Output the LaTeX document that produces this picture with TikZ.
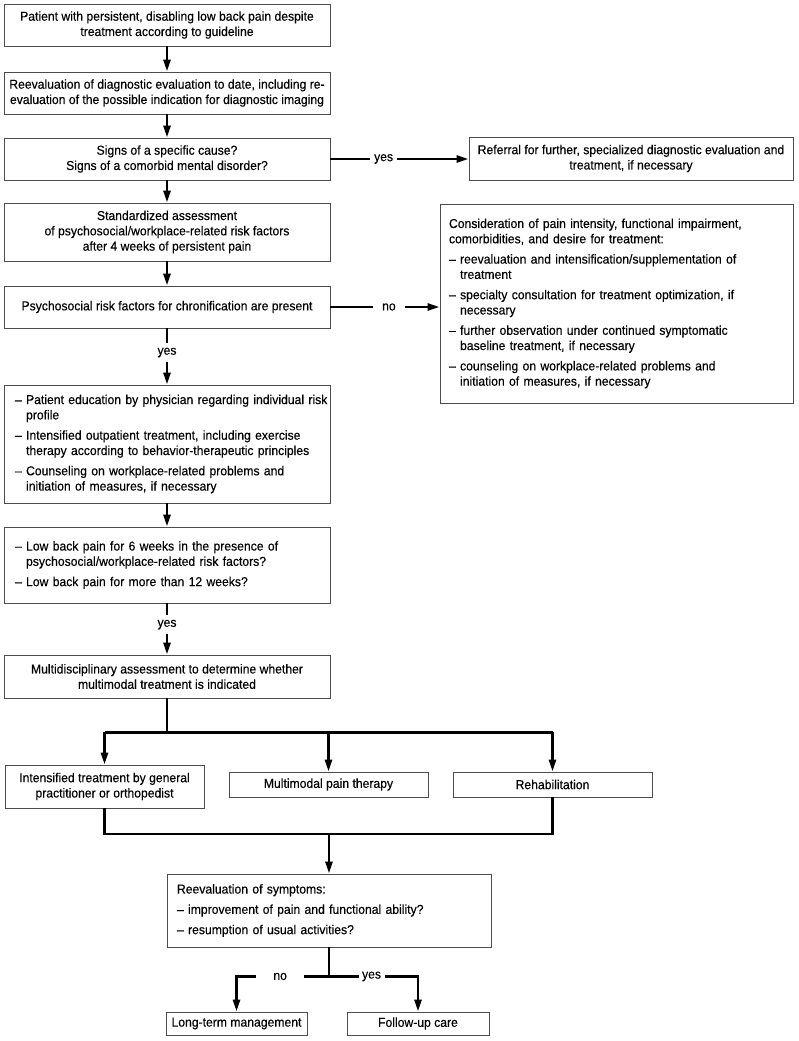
\documentclass[tikz,border=0pt]{standalone}
\usepackage{fontspec}
\setmainfont[FakeBold=0.3, FakeStretch=0.94]{Liberation Sans}
\usetikzlibrary{arrows.meta}
\newcommand{\hg}{\phantom{–\ }}
\begin{document}
\begin{tikzpicture}[x=1pt,y=-1pt,
  txt/.style={font=\fontsize{12.95}{15.3}\selectfont},
  box/.style={txt, draw=black!70, line width=0.9pt, fill=white, align=center, inner sep=0pt},
  lbox/.style={box, align=left, inner ysep=0pt},
  line/.style={line width=2.6pt, black},
  conn/.style={line, -{Triangle[length=12pt,width=7pt]}},
  lab/.style={txt, fill=white, inner xsep=4pt, inner ysep=4pt}]
\path[use as bounding box, fill=white] (0,0) rectangle (799,1041);

\node[box, minimum width=326pt, minimum height=42pt] (b1) at (167,25)
  {Patient with persistent, disabling low back pain despite\\treatment according to guideline};
\node[box, minimum width=326pt, minimum height=42pt] (b2) at (167,93)
  {Reevaluation of diagnostic evaluation to date, including re-\\evaluation of the possible indication for diagnostic imaging};
\node[box, minimum width=326pt, minimum height=42pt] (b3) at (167,159)
  {Signs of a specific cause?\\Signs of a comorbid mental disorder?};
\node[box, minimum width=326pt, minimum height=58pt] (b4) at (167,232)
  {Standardized assessment\\of psychosocial/workplace-related risk factors\\after 4 weeks of persistent pain};
\node[box, minimum width=326pt, minimum height=42pt] (b5) at (167,307)
  {Psychosocial risk factors for chronification are present};
\node[lbox, inner xsep=11pt, text width=304pt, minimum height=118pt] (b6) at (167,444)
  {\mbox{– Patient education by physician regarding individual risk}\\ \hg profile\\[5pt]
   – Intensified outpatient treatment, including exercise\\ \mbox{\hg therapy according to behavior-therapeutic principles}\\[5pt]
   – Counseling on workplace-related problems and\\ \hg initiation of measures, if necessary};
\node[lbox, inner xsep=11pt, text width=304pt, minimum height=76pt] (b7) at (167,565)
  {– Low back pain for 6 weeks in the presence of\\ \hg psychosocial/workplace-related risk factors?\\[5pt]
   – Low back pain for more than 12 weeks?};
\node[box, minimum width=326pt, minimum height=43pt] (b8) at (167,676.5)
  {Multidisciplinary assessment to determine whether\\multimodal treatment is indicated};

\node[box, minimum width=324pt, minimum height=43pt] (ref) at (631,158.5)
  {Referral for further, specialized diagnostic evaluation and\\treatment, if necessary};
\node[lbox, inner xsep=9pt, text width=335pt, minimum height=199pt] (cons) at (616.5,303.5)
  {Consideration of pain intensity, functional impairment,\\comorbidities, and desire for treatment:\\[5pt]
   \mbox{– reevaluation and intensification/supplementation of}\\ \hg treatment\\[5pt]
   – specialty consultation for treatment optimization, if\\ \hg necessary\\[5pt]
   – further observation under continued symptomatic\\ \hg baseline treatment, if necessary\\[5pt]
   – counseling on workplace-related problems and\\ \hg initiation of measures, if necessary};

\node[box, minimum width=199pt, minimum height=43pt] (b9) at (104.5,786.5)
  {Intensified treatment by general\\practitioner or orthopedist};
\node[box, minimum width=199pt, minimum height=25pt] (b10) at (328.5,784.5)
  {Multimodal pain therapy};
\node[box, minimum width=199pt, minimum height=25pt] (b11) at (552.5,784.5)
  {Rehabilitation};

\node[lbox, inner xsep=10pt, text width=304pt, minimum height=73pt] (b12) at (329,910.5)
  {Reevaluation of symptoms:\\[5pt]
   – improvement of pain and functional ability?\\[5pt]
   – resumption of usual activities?};
\node[box, minimum width=141pt, minimum height=23pt] (b13) at (236.5,1023.5)
  {Long-term management};
\node[box, minimum width=142pt, minimum height=23pt] (b14) at (418,1023.5)
  {Follow-up care};

% main chain
\draw[conn] (b1) -- (b2);
\draw[conn] (b2) -- (b3);
\draw[conn] (b3) -- (b4);
\draw[conn] (b4) -- (b5);
\draw[conn] (b5) -- node[lab, pos=0.43, inner ysep=5pt] {yes} (b6);
\draw[conn] (b6) -- (b7);
\draw[conn] (b7) -- node[lab, pos=0.415, inner ysep=5pt] {yes} (b8);

% side branches
\draw[conn] (b3.east) -- node[lab, pos=0.385] {yes} (b3.east -| ref.west);
\draw[conn] (b5.east) -- node[lab, pos=0.536, inner xsep=9.5pt] {no} (b5.east -| cons.west);

% distribution
\draw[line] (b8.south) -- ++(0,34) coordinate (bar);
\draw[line] (bar -| b9.north) -- (bar -| b11.north);
\draw[conn] (bar -| b9.north) -- (b9.north);
\draw[conn] (bar -| b10.north) -- (b10.north);
\draw[conn] (bar -| b11.north) -- (b11.north);

% merge
\coordinate (low) at (329,834);
\draw[line] (b9.south) |- (low) -| (b11.south);
\draw[conn] (low) -- (b12.north);

% final split
\draw[line] (b12.south) -- ++(0,29) coordinate (split);
\draw[conn] (split) -| node[lab, pos=0.264, inner xsep=17pt] {no} (b13.north);
\draw[conn] (split) -| node[lab, pos=0.239, inner xsep=3.5pt] {yes} (b14.north);
\end{tikzpicture}
\end{document}
